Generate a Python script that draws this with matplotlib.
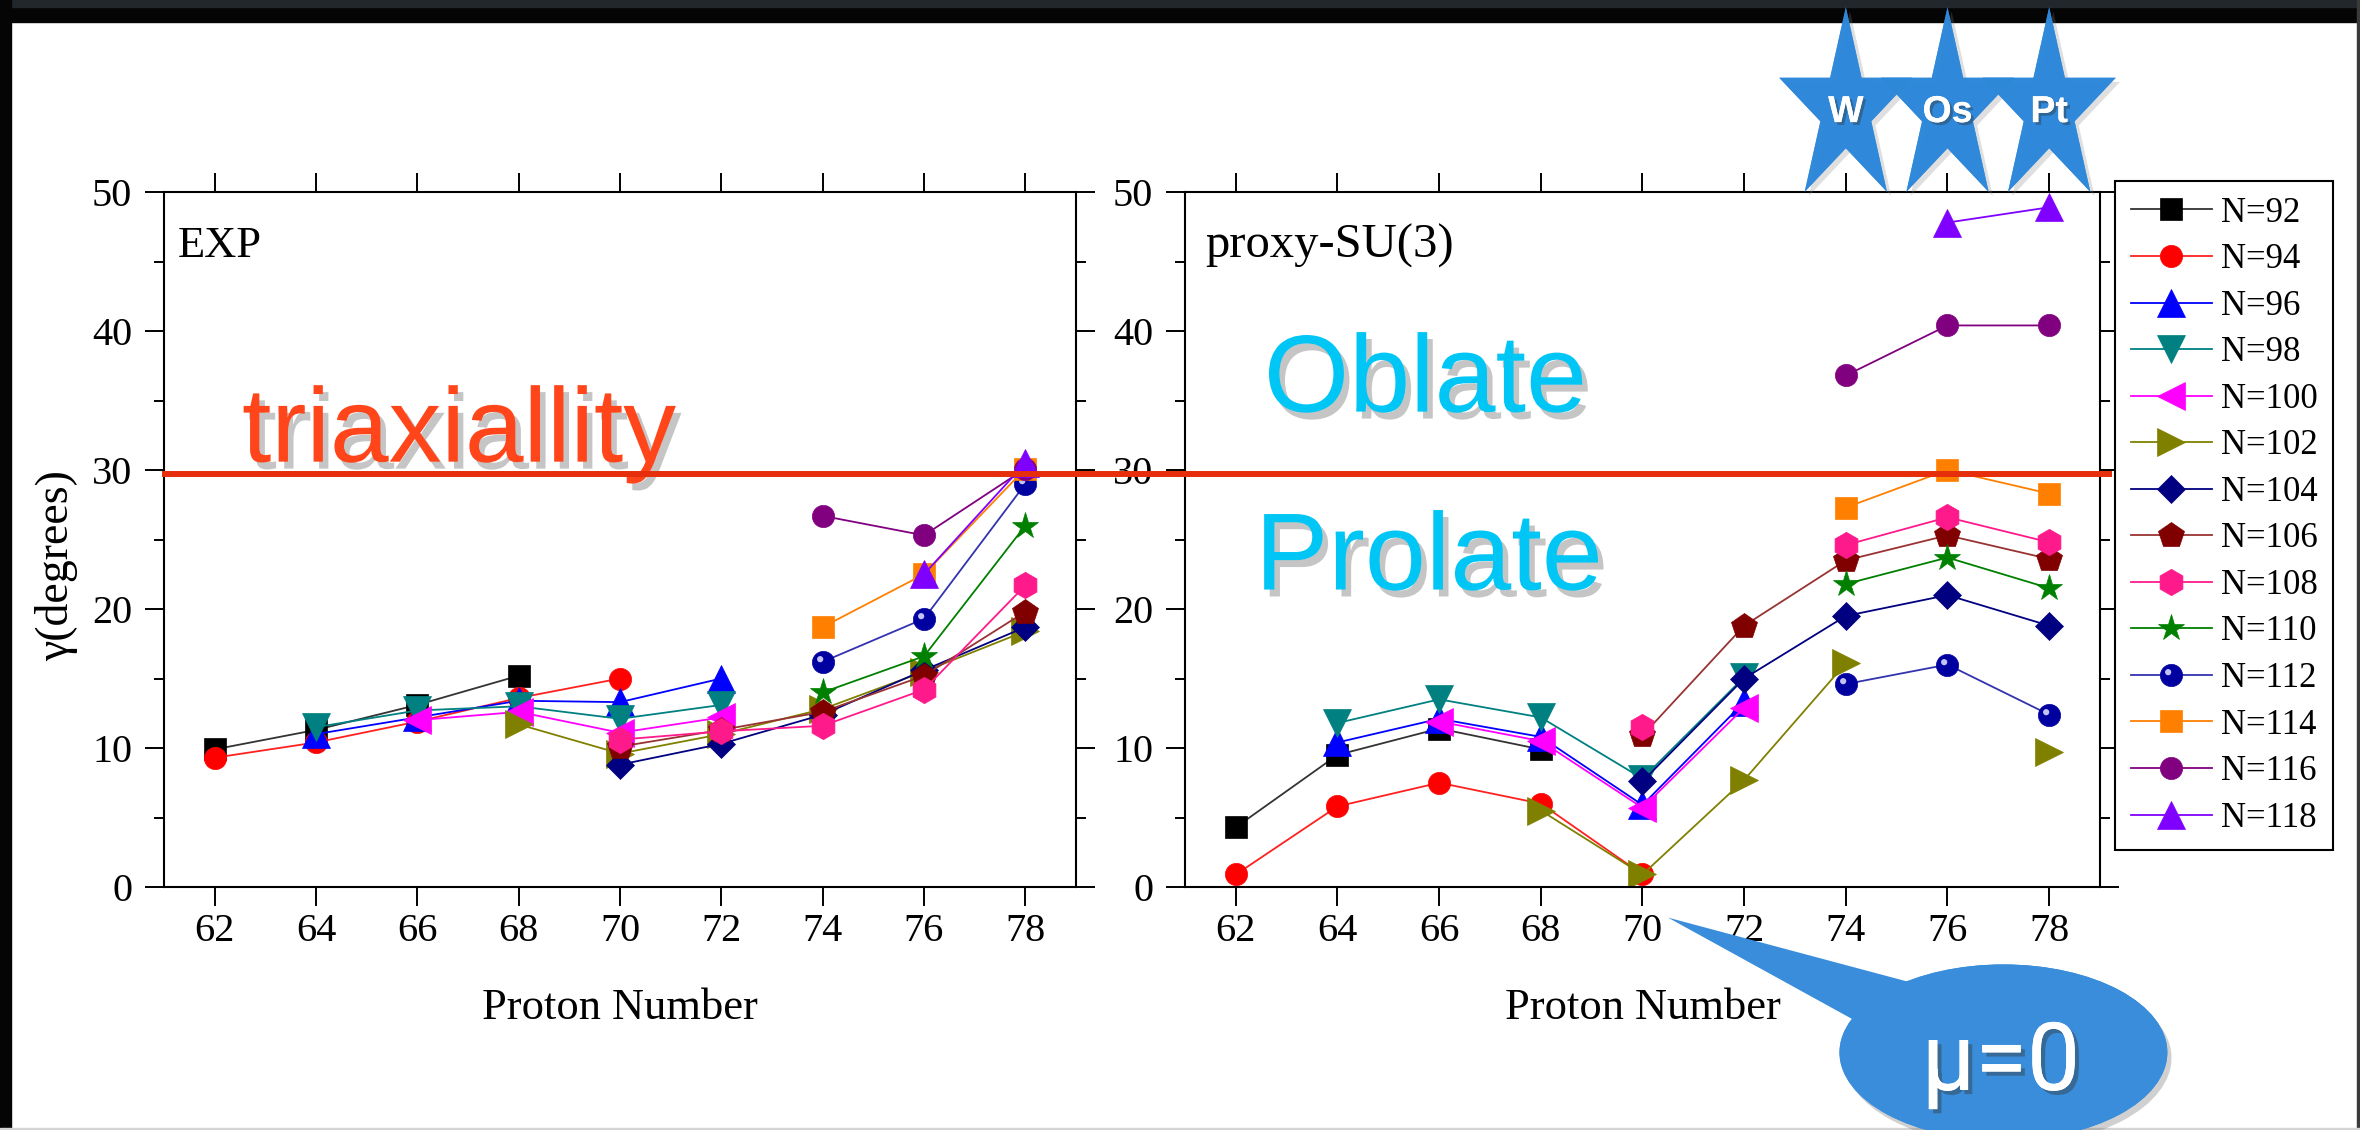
import numpy as np
import matplotlib
matplotlib.use("Agg")
import matplotlib.pyplot as plt
import matplotlib.patheffects as pe
import matplotlib.transforms as mtransforms
from matplotlib.path import Path
from matplotlib.patches import Ellipse, Rectangle
from matplotlib.lines import Line2D

nan = np.nan

# ---- data ----
proton_number = [62, 64, 66, 68, 70, 72, 74, 76, 78]
neutron_number = [92, 94, 96, 98, 100, 102, 104, 106, 108, 110, 112, 114, 116, 118]

# gamma in degrees, one row per N, one column per Z
gamma_exp = np.array([
    [9.9, 11.3, 13.1, 15.2, nan, nan, nan, nan, nan],
    [9.3, 10.4, 11.9, 13.6, 15.0, nan, nan, nan, nan],
    [nan, 11.0, 12.2, 13.4, 13.3, 15.0, nan, nan, nan],
    [nan, 11.5, 12.7, 13.0, 12.1, 13.1, nan, nan, nan],
    [nan, nan, 12.0, 12.6, 11.1, 12.2, nan, nan, nan],
    [nan, nan, nan, 11.7, 9.6, 11.0, 12.8, 15.5, 18.4],
    [nan, nan, nan, nan, 8.8, 10.3, 12.4, 15.6, 18.7],
    [nan, nan, nan, nan, 10.1, 11.3, 12.6, 15.2, 19.8],
    [nan, nan, nan, nan, 10.6, 11.2, 11.6, 14.2, 21.7],
    [nan, nan, nan, nan, nan, nan, 14.0, 16.6, 26.0],
    [nan, nan, nan, nan, nan, nan, 16.2, 19.3, 29.0],
    [nan, nan, nan, nan, nan, nan, 18.7, 22.5, 30.1],
    [nan, nan, nan, nan, nan, nan, 26.7, 25.3, 30.1],
    [nan, nan, nan, nan, nan, nan, nan, 22.5, 30.5],
])

gamma_su3 = np.array([
    [4.3, 9.5, 11.4, 9.9, nan, nan, nan, nan, nan],
    [0.9, 5.8, 7.5, 6.0, 0.9, nan, nan, nan, nan],
    [nan, 10.4, 12.1, 10.8, 5.9, 13.3, nan, nan, nan],
    [nan, 11.8, 13.5, 12.2, 7.8, 15.1, nan, nan, nan],
    [nan, nan, 11.9, 10.5, 5.7, 12.9, nan, nan, nan],
    [nan, nan, nan, 5.5, 0.9, 7.7, 16.1, nan, 9.7],
    [nan, nan, nan, nan, 7.6, 15.0, 19.5, 21.0, 18.8],
    [nan, nan, nan, nan, 10.9, 18.8, 23.5, 25.3, 23.6],
    [nan, nan, nan, nan, 11.5, nan, 24.6, 26.6, 24.8],
    [nan, nan, nan, nan, nan, nan, 21.8, 23.7, 21.5],
    [nan, nan, nan, nan, nan, nan, 14.6, 16.0, 12.4],
    [nan, nan, nan, nan, nan, nan, 27.3, 30.0, 28.3],
    [nan, nan, nan, nan, nan, nan, 36.8, 40.4, 40.4],
    [nan, nan, nan, nan, nan, nan, nan, 47.8, 48.9],
])

triax_limit = 29.7
star_elements = ["W", "Os", "Pt"]
star_z = [74, 76, 78]

# ---- styles ----
marker_colors = ["black", "#FF0000", "#0000FF", "#008080", "#FF00FF", "#808000",
                 "#000080", "#800000", "#FF1A8C", "#008000", "#0000A0", "#FF8000",
                 "#800080", "#8000FF"]
line_colors = ["#333333", "#FF2020", "#0000FF", "#008080", "#FF00FF", "#808000",
               "#000080", "#993333", "#FF1A8C", "#008000", "#3333B0", "#FF8000",
               "#800080", "#8000FF"]
markers = ["s", "o", "^", "v", "<", ">", "D", "p", "h", "*", "o", "s", "o", "^"]
msizes = [16, 16, 20, 20, 20, 20, 14, 19, 19, 20, 16, 16, 16, 20]

plt.rcParams["font.family"] = ["Liberation Serif", "DejaVu Serif"]

W, H = 2360, 1130
fig = plt.figure(figsize=(W / 100, H / 100), dpi=100)

# screen frame around the slide
fig.add_artist(Rectangle((0, 1 - 22 / H), 1, 22 / H, transform=fig.transFigure,
                         color="#050505", zorder=-1))
fig.add_artist(Rectangle((0, 1 - 7 / H), 1, 7 / H, transform=fig.transFigure,
                         color="#22272b", zorder=-1))
fig.add_artist(Rectangle((0, 0), 11 / W, 1, transform=fig.transFigure,
                         color="#050505", zorder=-1))
fig.add_artist(Rectangle((1 - 3 / W, 0), 3 / W, 1, transform=fig.transFigure,
                         color="#3a3a3a", zorder=-1))
fig.add_artist(Rectangle((0, 0), 1, 2 / H, transform=fig.transFigure,
                         color="#d4d4d4", zorder=-1))

ax1 = fig.add_axes([164 / W, 243 / H, 912 / W, 695 / H])
ax2 = fig.add_axes([1185 / W, 243 / H, 915 / W, 695 / H])

# glossy highlight for the N=112 balls
hl_circle = Path.circle((-0.3, 0.3), 0.28)
hl_path = Path([(-1, -1), (1, 1)] + list(hl_circle.vertices),
               [Path.MOVETO, Path.MOVETO] + list(hl_circle.codes))

handles = []
for ax, data in ((ax1, gamma_exp), (ax2, gamma_su3)):
    handles = []
    for i, n in enumerate(neutron_number):
        ln, = ax.plot(proton_number, data[i], color=line_colors[i], lw=1.3,
                      marker=markers[i], ms=msizes[i], mfc=marker_colors[i],
                      mec=marker_colors[i], mew=0.5, label=f"N={n}")
        if n == 112:
            hl, = ax.plot(proton_number, data[i], ls="none", marker=hl_path,
                          ms=msizes[i], mfc="#d8d8ff", mec="none", alpha=0.9)
            handles.append((ln, hl))
        else:
            handles.append(ln)

    ax.set_xlim(61, 79)
    ax.set_ylim(0, 50)
    ax.set_xticks(proton_number)
    ax.set_yticks(range(0, 51, 10))
    ax.set_yticks(range(5, 50, 10), minor=True)
    ax.tick_params(which="both", direction="out", top=True, right=True,
                   width=1.4, labelsize=29, colors="black")
    ax.tick_params(which="major", length=14)
    ax.tick_params(which="minor", length=7)
    ax.tick_params(axis="y", pad=9)
    ax.tick_params(axis="x", pad=5)
    for sp in ax.spines.values():
        sp.set_linewidth(1.5)
    ax.set_xlabel("Proton Number", fontsize=32, labelpad=27)

ax1.set_ylabel("γ(degrees)", fontsize=33)
ax1.yaxis.set_label_coords(-0.094, 0.463)

ax1.text(0.015, 0.906, "EXP", transform=ax1.transAxes, fontsize=32, va="baseline")
ax2.text(0.022, 0.906, "proxy-SU(3)", transform=ax2.transAxes, fontsize=35, va="baseline")

# legend
leg = fig.legend(handles, [f"N={n}" for n in neutron_number], loc="upper left",
                 bbox_to_anchor=(2115 / W, 1 - 181 / H), borderaxespad=0,
                 fontsize=25, handlelength=2.35, handletextpad=0.25,
                 borderpad=0.45, labelspacing=0.39, fancybox=False,
                 edgecolor="black", framealpha=1)
leg.get_frame().set_linewidth(1.5)

# triaxiality line at 30 degrees across both panels
fig.add_artist(Line2D([165 / W, 2109 / W], [triax_limit, triax_limit],
                      transform=mtransforms.blended_transform_factory(fig.transFigure, ax1.transData),
                      color="#E62E0C", lw=4.3, zorder=3))

shadow = [pe.withSimplePatchShadow(offset=(4, -5), shadow_rgbFace="0.35", alpha=0.35)]
sans = ["Liberation Sans", "DejaVu Sans"]
ax1.text(62.54, 30.6, "triaxiallity", fontsize=76, family=sans, color="#FF4519",
         va="baseline", path_effects=shadow, zorder=5)
ax2.text(62.55, 34.2, "Oblate", fontsize=79, family=sans, color="#00C6F6",
         va="baseline", path_effects=shadow, zorder=5)
ax2.text(62.38, 21.4, "Prolate", fontsize=79, family=sans, color="#00C6F6",
         va="baseline", path_effects=shadow, zorder=5)

# stars W / Os / Pt above the proxy-SU(3) panel
ang_out = np.deg2rad(90 + 72 * np.arange(5))
ang_in = ang_out + np.deg2rad(36)
star_v = []
for a, b in zip(ang_out, ang_in):
    star_v.append((0.686 * np.cos(a), np.sin(a)))
    star_v.append((0.686 * 0.382 * np.cos(b), 0.382 * np.sin(b)))
star_v.append(star_v[0])
star_path = Path(star_v, [Path.MOVETO] + [Path.LINETO] * 9 + [Path.CLOSEPOLY])

top_tr = mtransforms.blended_transform_factory(ax2.transData, ax2.transAxes)
ax2.plot(star_z, [1.119] * 3, transform=top_tr, ls="none", marker=star_path,
         ms=147, mfc="#2E88D9", mec="none", alpha=0.9, clip_on=False, zorder=6,
         path_effects=[pe.withSimplePatchShadow(offset=(3, -3), shadow_rgbFace="0.5", alpha=0.25),
                       pe.Normal()])
for z, el in zip(star_z, star_elements):
    ax2.text(z, 1.115, el, transform=top_tr, ha="center", va="center", fontsize=27,
             family=sans, weight="bold", color="white", clip_on=False, zorder=7,
             path_effects=[pe.withSimplePatchShadow(offset=(2, -2), shadow_rgbFace="0.2", alpha=0.4),
                           pe.Normal()])

# mu=0 callout bubble
bubble = "#3A8DDA"
ax2.annotate("", xy=(70.5, -2.2), xytext=(77.1, -11.9), annotation_clip=False,
             arrowprops=dict(arrowstyle="wedge,tail_width=3.17,shrink_factor=0.5",
                             mutation_scale=20, fc=bubble, ec="none",
                             shrinkA=0, shrinkB=0, patchA=None, clip_on=False),
             zorder=6)
ax2.add_patch(Ellipse((77.1, -11.9), 6.45, 12.66, fc=bubble, ec="none",
                      clip_on=False, zorder=6,
                      path_effects=[pe.withSimplePatchShadow(offset=(3, -4), shadow_rgbFace="0.4", alpha=0.3),
                                    pe.Normal()]))
ax2.text(77.05, -14.6, "μ=0", ha="center", va="baseline", fontsize=68,
         family=["Roboto", "DejaVu Sans"], color="white",
         clip_on=False, zorder=7,
         path_effects=[pe.withSimplePatchShadow(offset=(3, -3), shadow_rgbFace="0.2", alpha=0.4),
                       pe.Normal()])

fig.savefig("out.png", dpi=100)
